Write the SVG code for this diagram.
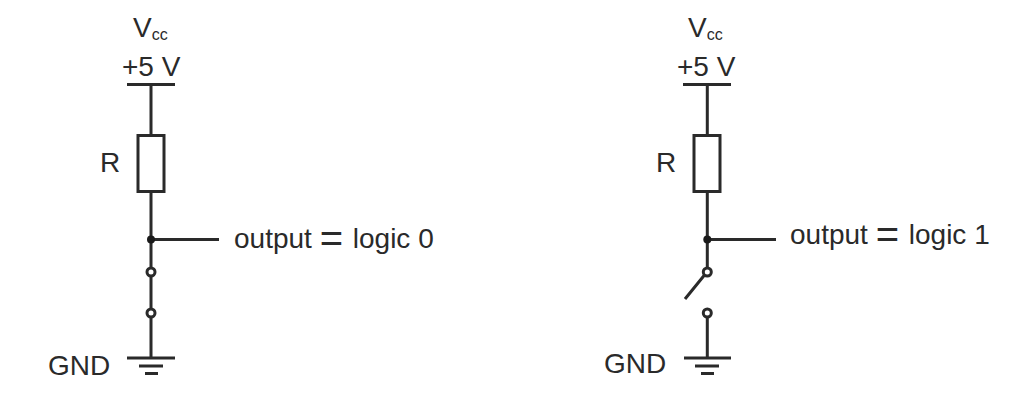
<svg xmlns="http://www.w3.org/2000/svg" width="1016" height="412" viewBox="0 0 1016 412">
<style>
text{font-family:"Liberation Sans",Arial,sans-serif;font-size:28px;fill:#2a2a2a}
.sub{font-size:16px}
.eq{font-size:40px}
.w{stroke:#2a2a2a;stroke-width:3;fill:none}
.t{stroke:#2a2a2a;stroke-width:3;fill:#fff}
.d{fill:#1a1a1a}
</style>
<rect width="1016" height="412" fill="#fff"/>
<g id="connectors">
<path class="w" d="M151 84V135M151 191V358M151 239.500H219"/>
<path class="w" d="M707.300 84V135M707.300 191V272M707.300 313V358M707.300 239.500H776M704.500 275L685 299"/>
</g>
<g id="left-vcc"><text x="133" y="37">V<tspan class="sub" dy="3">cc</tspan></text><text x="122" y="76">+5 V</text><path class="w" d="M127 84.500H175"/></g>
<g id="left-resistor"><rect class="t" x="138" y="135.500" width="26" height="56"/><text x="100" y="172">R</text></g>
<g id="left-junction"><circle class="d" cx="151" cy="239.500" r="4"/></g>
<g id="left-output"><text x="234" y="248">output <tspan class="eq" dy="4">=</tspan><tspan dx="2" dy="-4"> logic 0</tspan></text></g>
<g id="left-contact-top"><circle class="t" cx="151" cy="272" r="4"/></g>
<g id="left-contact-bottom"><circle class="t" cx="151" cy="313" r="4"/></g>
<g id="left-gnd"><text x="48" y="375">GND</text><path class="w" d="M127 358H175M139 366H163M145 373.500H158"/></g>
<g id="right-vcc"><text x="688" y="37">V<tspan class="sub" dy="3">cc</tspan></text><text x="677" y="76">+5 V</text><path class="w" d="M683 84.500H731"/></g>
<g id="right-resistor"><rect class="t" x="694" y="135.500" width="26" height="56"/><text x="656" y="172">R</text></g>
<g id="right-junction"><circle class="d" cx="707.300" cy="239.500" r="4"/></g>
<g id="right-output"><text x="790" y="244">output <tspan class="eq" dy="4">=</tspan><tspan dx="2" dy="-4"> logic 1</tspan></text></g>
<g id="right-contact-top"><circle class="t" cx="707.300" cy="272" r="4"/></g>
<g id="right-contact-bottom"><circle class="t" cx="707.300" cy="313" r="4"/></g>
<g id="right-gnd"><text x="604" y="373">GND</text><path class="w" d="M684 358H731M695 366H719M701 373.500H714"/></g>
</svg>
